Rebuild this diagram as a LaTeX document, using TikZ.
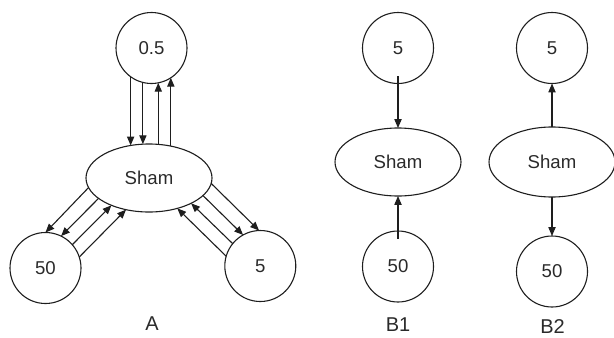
\documentclass[tikz,border=0pt]{standalone}
\usepackage{fontspec}
\setmainfont{Liberation Sans}
\usetikzlibrary{arrows.meta,shapes.geometric}
\definecolor{ink}{HTML}{1E1E1E}
\definecolor{txt}{HTML}{2A2A2A}
\begin{document}
\begin{tikzpicture}[x=0.5pt,y=-0.5pt,
  state/.style={circle,draw=ink,line width=0.55pt,minimum size=35.5pt,
    inner sep=0pt,outer sep=0pt,text=txt,font=\fontsize{9.3}{11}\selectfont},
  hub/.style={ellipse,draw=ink,line width=0.55pt,minimum width=63pt,
    minimum height=34pt,inner sep=0pt,outer sep=0pt,text=txt,
    font=\fontsize{9.3}{11}\selectfont},
  flow/.style={draw=ink,line width=0.55pt,-{Triangle[length=4.4pt,width=3.6pt]}},
  panel/.style={text=txt,font=\fontsize{10}{12}\selectfont}]
\useasboundingbox (0,0) rectangle (614,337);

% ---- Panel A: exchange between Sham and three groups ----
\node[state] (topA)   at (151.5,48)  {0.5};
\node[hub]   (shamA)  at (149,178)   {Sham};
\node[state] (lowA)   at (45.5,268)  {50};
\node[state] (rightA) at (260.3,266) {5};
\node[panel] (labA)   at (152,324)   {A};

% vertical pairs between 0.5 and Sham
\draw[flow] (topA.234.1) -- (topA.234.1 |- shamA.119.4);
\draw[flow] (topA.256.6) -- (topA.256.6 |- shamA.99.6);
\draw[flow] (topA.281.7 |- shamA.73.9) -- (topA.281.7);
\draw[flow] (topA.303.9 |- shamA.55.0) -- (topA.303.9);

% diagonal pairs between Sham and 50
\draw[flow] (shamA.189.9) -- (lowA.90.8);
\draw[flow] (shamA.202.0) -- (lowA.64.2);
\draw[flow] (lowA.41.0)   -- (shamA.216.2);
\draw[flow] (lowA.18.4)   -- (shamA.234.4);

% diagonal pairs between Sham and 5
\draw[flow] (shamA.355.4)  -- (rightA.92.4);
\draw[flow] (shamA.342.35) -- (rightA.119.2);
\draw[flow] (rightA.141.9) -- (shamA.329.36);
\draw[flow] (rightA.164.3) -- (shamA.313.74);

% ---- Panel B1 ----
\node[state] (topB1)  at (398,48)    {5};
\node[hub]   (shamB1) at (398,162)   {Sham};
\node[state] (lowB1)  at (398,266.5) {50};
\node[panel] (labB1)  at (398,325)   {B1};
\draw[flow] ([yshift=3.75pt]topB1.south) -- (shamB1.north);
\draw[flow] ([yshift=-3.75pt]lowB1.north) -- (shamB1.south);

% ---- Panel B2 ----
\node[state] (topB2)  at (552,48)    {5};
\node[hub,minimum height=35pt] (shamB2) at (552,162) {Sham};
\node[state] (lowB2)  at (552,271.5) {50};
\node[panel] (labB2)  at (552.5,326.5) {B2};
\draw[flow] (shamB2.north) -- (topB2.south);
\draw[flow] (shamB2.south) -- (lowB2.north);
\end{tikzpicture}
\end{document}
